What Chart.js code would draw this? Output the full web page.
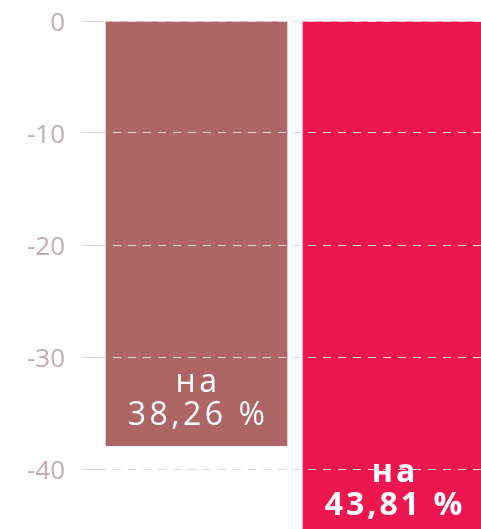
<!DOCTYPE html>
<html>
<head>
<meta charset="utf-8">
<script src="https://cdn.jsdelivr.net/npm/chart.js@4.4.1/dist/chart.umd.min.js"></script>
<style>
html,body{margin:0;padding:0;overflow:hidden;background:#fff;}
#c{position:absolute;left:0;top:0;}
</style>
</head>
<body>
<canvas id="c" width="500" height="585"></canvas>
<script>
const categories = ["A", "B"];
const barValues = [-37.95, -46.0];
const labelTop = ["на", "на"];
const labelBottom = ["38,26 %", "43,81 %"];
const labelWeights = ["400", "700"];
const barColors = ["#ad6566", "#ee1650"];
const yTicks = [0, -10, -20, -30, -40, -50];

const labelPlugin = {
  id: 'barLabels',
  afterDraw(chart) {
    const ctx = chart.ctx;
    const meta = chart.getDatasetMeta(0);
    meta.data.forEach((bar, i) => {
      const x = bar.x;
      const bottom = bar.y;
      ctx.save();
      ctx.fillStyle = '#ffffff';
      ctx.textAlign = 'center';
      ctx.textBaseline = 'alphabetic';
      ctx.font = labelWeights[i] + ' 32px "Open Sans"';
      try { ctx.letterSpacing = i === 0 ? '3.5px' : '3px'; } catch (e) {}
      ctx.fillText(labelTop[i], x + 1.5, bottom - 54);
      ctx.fillText(labelBottom[i], x + 1.5, bottom - 21);
      ctx.restore();
    });
  }
};

new Chart(document.getElementById('c'), {
  type: 'bar',
  data: {
    labels: categories,
    datasets: [{
      data: barValues,
      backgroundColor: barColors,
      borderWidth: 0,
      categoryPercentage: 1,
      barPercentage: 0.922
    }]
  },
  options: {
    responsive: false,
    animation: false,
    events: [],
    layout: { padding: { top: 21, right: 8, bottom: 4, left: 0 } },
    plugins: { legend: { display: false }, tooltip: { enabled: false } },
    scales: {
      x: { display: false },
      y: {
        min: -50,
        max: 0,
        afterBuildTicks(scale) { scale.ticks = yTicks.map(v => ({ value: v })); },
        afterFit(scale) { scale.width = 98; scale.paddingTop = 0; scale.paddingBottom = 0; },
        grid: {
          z: 1,
          color: 'rgb(226,214,217)',
          lineWidth: 1,
          tickLength: 16,
          drawTicks: true
        },
        border: { display: false, dash: [8, 7] },
        ticks: {
          padding: 17,
          labelOffset: 3,
          color: '#c3abb0',
          font: { family: '"Open Sans"', size: 26 },
          callback: v => String(v)
        }
      }
    }
  },
  plugins: [labelPlugin]
});
</script>
</body>
</html>
